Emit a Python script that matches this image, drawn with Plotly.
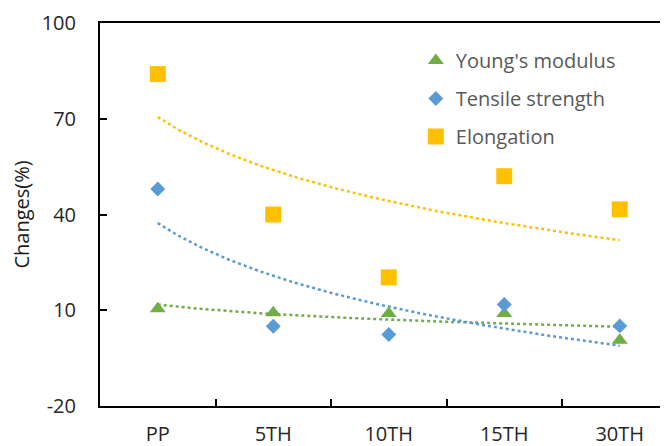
import numpy as np
import plotly.graph_objects as go

categories = ["PP", "5TH", "10TH", "15TH", "30TH"]
youngs_modulus = [10.5, 9.2, 9.0, 9.0, 0.6]
tensile_strength = [48.0, 5.0, 2.4, 11.8, 5.1]
elongation = [84.0, 40.0, 20.3, 52.0, 41.6]
y_ticks = [-20, 10, 40, 70, 100]
y_tick_labels = ["-20", "10", "40", "70", "100"]

series = [
    ("Young's modulus", youngs_modulus, "#70AD47", "triangle-up", 14),
    ("Tensile strength", tensile_strength, "#5B9BD5", "diamond", 11.5),
    ("Elongation", elongation, "#FFC000", "square", 16),
]

FONT = "Open Sans"
x_idx = np.arange(len(categories))
x_dense = np.linspace(0, len(categories) - 1, 200)

fig = go.Figure()
for name, vals, color, sym, size in series:
    # Excel-style logarithmic trendline: y = a + b ln(x)
    b, a = np.polyfit(np.log(x_idx + 1), np.array(vals), 1)
    fig.add_trace(go.Scatter(
        x=x_dense, y=a + b * np.log(x_dense + 1), mode="lines",
        line=dict(color=color, width=2.5, dash="dot"),
        showlegend=False, hoverinfo="skip"))

for i, (name, vals, color, sym, size) in enumerate(series):
    fig.add_trace(go.Scatter(
        x=x_idx, y=vals, mode="markers", name=name,
        marker=dict(symbol=sym, size=size, color=color, line=dict(width=0)),
        legendgroup=f"g{i}"))

# page body has an 8px margin, so the figure is drawn 8px smaller/shifted
fig.update_layout(
    width=660, height=438,
    margin=dict(l=92, r=0, t=15, b=40),
    paper_bgcolor="white", plot_bgcolor="white",
    font=dict(family=FONT, size=20, color="#262626"),
    legend=dict(x=0.556, y=0.953, xanchor="left", yanchor="top",
                font=dict(size=20, color="#595959"),
                traceorder="grouped", tracegroupgap=9,
                itemwidth=30, bgcolor="rgba(0,0,0,0)"),
    xaxis=dict(
        range=[-0.5, -0.5 + 568 / 115.5],
        tickvals=list(x_idx), ticktext=categories, ticks="",
        showgrid=False, zeroline=False, automargin=False,
        showline=True, linecolor="black", linewidth=2, mirror=True,
        ticklabelstandoff=9,
        minor=dict(tickvals=[0.5, 1.5, 2.5, 3.5], ticks="inside",
                   ticklen=7, tickwidth=2, tickcolor="black", showgrid=False),
    ),
    yaxis=dict(
        range=[-20, 100], tickvals=y_ticks, ticktext=y_tick_labels,
        ticks="inside", ticklen=7, tickwidth=2, tickcolor="black",
        showgrid=False, zeroline=False, automargin=False,
        showline=True, linecolor="black", linewidth=2,
        ticklabelstandoff=18,
        title=dict(text="Changes(%)", font=dict(size=20, color="#1a1a1a"), standoff=16),
    ),
)

fig.write_html("out.html")
